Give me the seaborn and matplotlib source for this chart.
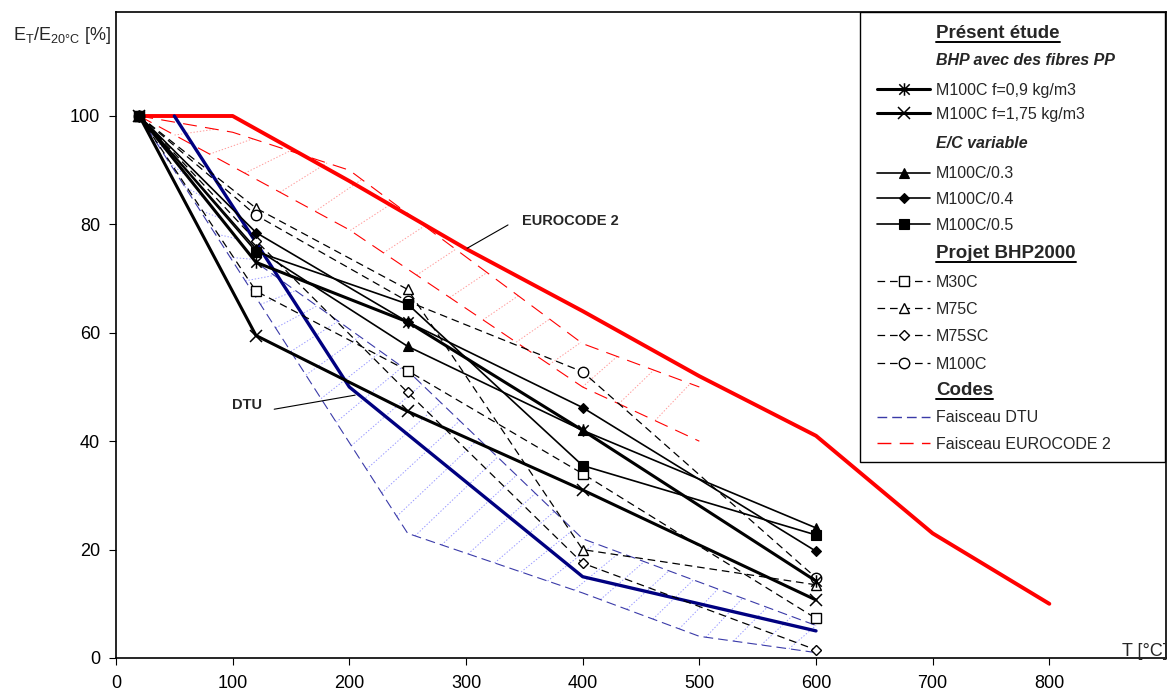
import numpy as np
import seaborn as sns
import matplotlib
matplotlib.use('Agg')
import matplotlib.pyplot as plt
from matplotlib.path import Path
from matplotlib.lines import Line2D
from matplotlib.patches import Rectangle

# Temperatures of the tests (°C)
T = [20, 120, 250, 400, 600]

# Présent étude - BHP avec des fibres PP
m100c_f09 = [100, 73, 62, 42, 14.2]
m100c_f175 = [100, 59.5, 45.5, 31, 10.7]
# Présent étude - E/C variable
m100c_03 = [100, 75.5, 57.5, 42, 24]
m100c_04 = [100, 78.5, 62, 46.2, 19.7]
m100c_05 = [100, 75, 65.3, 35.5, 22.7]
# Projet BHP2000
m30c = [100, 67.7, 53, 34, 7.3]
m75c = [100, 83, 68, 20, 13.5]
m75sc = [100, 77, 49, 17.5, 1.5]
m100c = [100, 81.7, 65.8, 52.8, 14.8]

# Codes
dtu_T = [50, 200, 400, 600]
dtu = [100, 50, 15, 5]
ec2_T = [20, 100, 200, 300, 400, 500, 600, 700, 800]
ec2 = [100, 100, 88, 75.5, 64, 52, 41, 23, 10]

# Faisceaux (lower / upper bounds)
dtu_low_T = [20, 250, 400, 500, 600]
dtu_low = [100, 23, 12, 4, 1]
dtu_up_T = [20, 120, 250, 400, 600]
dtu_up = [100, 73, 53, 22, 6]
ec_low_T = [20, 200, 400, 500]
ec_low = [100, 79, 50, 40]
ec_up_T = [20, 100, 200, 400, 500]
ec_up = [100, 97, 90, 58, 50]

x_ticks = [0, 100, 200, 300, 400, 500, 600, 700, 800]
y_ticks = [0, 20, 40, 60, 80, 100]

W, H = 1175, 697

sns.set_theme(style='white')
plt.rcParams['font.family'] = ['Liberation Sans', 'DejaVu Sans']
plt.rcParams['mathtext.fontset'] = 'custom'
plt.rcParams['mathtext.rm'] = 'Liberation Sans'
plt.rcParams['mathtext.it'] = 'Liberation Sans:italic'
plt.rcParams['mathtext.bf'] = 'Liberation Sans:bold'
plt.rcParams['lines.scale_dashes'] = False

# Excel like asterisk marker (x with a vertical bar)
asterisk = Path([(-1, -1), (1, 1), (-1, 1), (1, -1), (0, -1.2), (0, 1.2)],
                [Path.MOVETO, Path.LINETO, Path.MOVETO, Path.LINETO, Path.MOVETO, Path.LINETO])

dash_bhp = (0, (5.5, 3.5))
dash_dtu = (0, (7, 3.6))
dash_ec = (0, (10, 6))

styles = {
    'f09': dict(color='black', lw=2.2, marker=asterisk, ms=9, mec='black', mew=1.1),
    'f175': dict(color='black', lw=2.2, marker='x', ms=8, mec='black', mew=1.1),
    'ec03': dict(color='black', lw=1.2, marker='^', ms=7.5, mfc='black', mec='black', mew=0.8),
    'ec04': dict(color='black', lw=1.2, marker='D', ms=5.3, mfc='black', mec='black', mew=0.8),
    'ec05': dict(color='black', lw=1.2, marker='s', ms=6.5, mfc='black', mec='black', mew=0.8),
    'm30c': dict(color='black', lw=0.9, ls=dash_bhp, marker='s', ms=7, mfc='white', mec='black', mew=1.0),
    'm75c': dict(color='black', lw=0.9, ls=dash_bhp, marker='^', ms=7.5, mfc='white', mec='black', mew=1.0),
    'm75sc': dict(color='black', lw=0.9, ls=dash_bhp, marker='D', ms=5.3, mfc='white', mec='black', mew=1.0),
    'm100c': dict(color='black', lw=0.9, ls=dash_bhp, marker='o', ms=7.5, mfc='white', mec='black', mew=1.0),
    'dtu_band': dict(color='#3a3aa8', lw=0.8, ls=dash_dtu),
    'ec_band': dict(color='#ff0000', lw=0.8, ls=dash_ec),
}

fig = plt.figure(figsize=(W / 100, H / 100), dpi=100)
ax = fig.add_axes([116 / W, 39 / H, 1050 / W, 646 / H])
ax.set_xlim(0, 900)
ax.set_ylim(0, 646 / 5.42)


def draw(x, y, key=None, z=2, **kw):
    st = dict(styles[key]) if key else {}
    st.update(kw)
    sns.lineplot(x=x, y=y, ax=ax, sort=False, estimator=None, legend=False, zorder=z, **st)


def hatch(lowT, low, upT, up, step, shift, **kw):
    # ladder of dotted lines between the two bounds, evenly spaced on screen
    def arc(tt, vv):
        p = ax.transData.transform(np.column_stack([tt, vv]))
        s = np.r_[0, np.cumsum(np.hypot(*np.diff(p, axis=0).T))]
        return s / s[-1], s[-1]
    fl, Ll = arc(lowT, low)
    fu, Lu = arc(upT, up)
    for f in np.arange(step / Ll, 1 - 0.5 * step / Ll, step / Ll):
        g = min(f + shift, 1)
        ax.plot([np.interp(f, fl, lowT), np.interp(g, fu, upT)],
                [np.interp(f, fl, low), np.interp(g, fu, up)], zorder=1, **kw)


# faisceaux
hatch(ec_low_T, ec_low, ec_up_T, ec_up, 40, 0.06, color='#ff9a9a', lw=0.7, ls=(0, (1, 1.3)))
hatch(dtu_low_T, dtu_low, dtu_up_T, dtu_up, 28, 0.03, color='#9a9aff', lw=0.7, ls=(0, (1, 1.3)))
draw(ec_low_T, ec_low, 'ec_band', z=1.5)
draw(ec_up_T, ec_up, 'ec_band', z=1.5)
draw(dtu_low_T, dtu_low, 'dtu_band', z=1.5)
draw(dtu_up_T, dtu_up, 'dtu_band', z=1.5)

# Codes
draw(ec2_T, ec2, color='#ff0000', lw=2.8, z=2)
draw(dtu_T, dtu, color='#000080', lw=2.4, z=2.2)

# Projet BHP2000
draw(T, m30c, 'm30c', z=3)
draw(T, m75c, 'm75c', z=3)
draw(T, m75sc, 'm75sc', z=3)
draw(T, m100c, 'm100c', z=3)
# E/C variable
draw(T, m100c_03, 'ec03', z=4)
draw(T, m100c_04, 'ec04', z=4)
draw(T, m100c_05, 'ec05', z=4)
# fibres PP
draw(T, m100c_f09, 'f09', z=5)
draw(T, m100c_f175, 'f175', z=5)

# annotations
ax.text(348, 80.6, 'EUROCODE 2', fontsize=10.5, fontweight='bold', va='center', ha='left')
ax.plot([336, 301], [79.9, 75.6], color='black', lw=0.8)
ax.text(99.4, 46.7, 'DTU', fontsize=10.5, fontweight='bold', va='center', ha='left')
ax.plot([135.6, 205], [45.9, 48.5], color='black', lw=0.8)

# axes
ax.set_xticks(x_ticks)
ax.set_yticks(y_ticks)
ax.tick_params(axis='both', direction='out', length=5, width=0.8, color='black',
               labelsize=13, labelcolor='black', bottom=True, left=True)
ax.tick_params(axis='y', pad=6.5)
ax.tick_params(axis='x', pad=7)
for sp in ax.spines.values():
    sp.set_color('black')
    sp.set_linewidth(1.2)
ax.grid(False)
ax.set_xlabel('')
ax.set_ylabel('')

fig.text(13 / W, 1 - 35 / H, r'E$_{\mathrm{T}}$/E$_{\mathrm{20°C}}$ [%]', fontsize=13, va='center', ha='left')
fig.text(1122 / W, 1 - 651 / H, 'T [°C]', fontsize=13, va='center', ha='left')

# legend, drawn by hand to get the headers
fig.add_artist(Rectangle((860 / W, 1 - 462 / H), 305 / W, 450 / H, transform=fig.transFigure,
                         facecolor='white', edgecolor='black', lw=1.0, zorder=6))

h0, h1, hm, tx = 877, 930, 903.5, 936


def fy(y):
    return 1 - y / H


headers = []
for label, base, kind in [('Présent étude', 38, 'h'), ('BHP avec des fibres PP', 65, 's'),
                          ('E/C variable', 148.5, 's'), ('Projet BHP2000', 258, 'h'),
                          ('Codes', 395.5, 'h')]:
    if kind == 'h':
        t = fig.text(tx / W, fy(base), label, fontsize=13.5, fontweight='bold', va='baseline', zorder=7)
        headers.append((t, base))
    else:
        fig.text(tx / W, fy(base), label, fontsize=11.5, fontweight='bold', style='italic',
                 va='baseline', zorder=7)

entries = [('M100C f=0,9 kg/m3', 94.5, 'f09'), ('M100C f=1,75 kg/m3', 119, 'f175'),
           ('M100C/0.3', 178.5, 'ec03'), ('M100C/0.4', 204, 'ec04'), ('M100C/0.5', 230, 'ec05'),
           ('M30C', 287, 'm30c'), ('M75C', 314, 'm75c'), ('M75SC', 341, 'm75sc'),
           ('M100C', 369, 'm100c'), ('Faisceau DTU', 422.5, 'dtu_band'),
           ('Faisceau EUROCODE 2', 449, 'ec_band')]
for label, base, key in entries:
    st = dict(styles[key])
    yc = fy(base - 6)
    mk = {k: st.pop(k) for k in ['marker', 'ms', 'mfc', 'mec', 'mew'] if k in st}
    if key in ('dtu_band', 'ec_band'):
        st['lw'] = 1.0
    fig.add_artist(Line2D([h0 / W, h1 / W], [yc, yc], transform=fig.transFigure, zorder=7, **st))
    if mk:
        fig.add_artist(Line2D([hm / W], [yc], transform=fig.transFigure, ls='none', zorder=8, **mk))
    fig.text(tx / W, fy(base), label, fontsize=11.5, va='baseline', zorder=7)

# underline the headers
fig.canvas.draw()
r = fig.canvas.get_renderer()
for t, base in headers:
    bb = t.get_window_extent(r)
    fig.add_artist(Line2D([bb.x0 / W, bb.x1 / W], [fy(base + 3.5)] * 2, transform=fig.transFigure,
                          color='black', lw=1.4, zorder=7))

fig.savefig('out.png', dpi=100)
